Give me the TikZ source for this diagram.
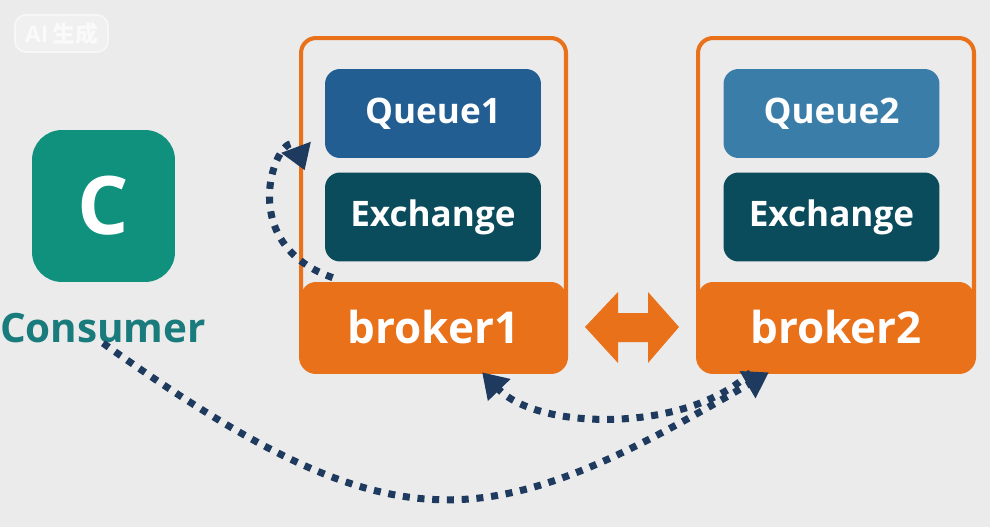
\documentclass[tikz,border=0pt]{standalone}
\usepackage{fontspec}
\setmainfont{Open Sans}
\newfontfamily\cjk{Noto Sans CJK SC}
\usetikzlibrary{arrows.meta, positioning}

\definecolor{bgcol}{HTML}{EBEBEB}
\definecolor{brokerorange}{HTML}{E8711A}
\definecolor{queueblue}{HTML}{235E92}
\definecolor{queuelight}{HTML}{3A7DA8}
\definecolor{exchdark}{HTML}{0A4B5C}
\definecolor{iconteal}{HTML}{0F917D}
\definecolor{constext}{HTML}{1A7B7D}
\definecolor{dotnavy}{HTML}{1E3A5F}

\begin{document}
\begin{tikzpicture}[x=0.02cm, y=-0.02cm,
    innerbox/.style={rounded corners=0.3cm, minimum width=4.32cm, minimum height=1.78cm,
        inner sep=0pt, text=white, font=\bfseries\fontsize{20}{24}\selectfont},
    brokerbox/.style={draw=brokerorange, line width=2.3pt, rounded corners=0.3cm,
        minimum height=6.68cm, inner sep=0pt},
    brokerbase/.style={fill=brokerorange, rounded corners=0.3cm, minimum height=1.8cm,
        inner sep=0pt, text=white, font=\bfseries\fontsize{25}{30}\selectfont},
    dotline/.style={draw=dotnavy, line width=4pt, dash pattern=on 4pt off 4.4pt,
        -{Triangle[width=17pt, length=14pt]}}]

    \fill[bgcol] (0,0) rectangle (990,527);
    \useasboundingbox (0,0) rectangle (990,527);

    \node[draw=white!60!bgcol, line width=1pt, fill=white!25!bgcol, rounded corners=0.22cm,
        minimum width=1.86cm, minimum height=0.74cm, inner sep=0pt, text=white!75!bgcol,
        font=\bfseries\fontsize{13}{15}\selectfont] (mark) at (61.5,33.5) {AI\,{\cjk 生成}};

    % consumer
    \node[fill=iconteal, rounded corners=0.6cm, minimum width=2.86cm, minimum height=3.04cm,
        text=white, font=\bfseries\fontsize{46}{52}\selectfont] (icon) at (103.5,206) {C};
    \node[inner sep=0pt, text=constext, font=\bfseries\fontsize{23}{28}\selectfont]
        (cons) at (103,328) {Consumer};

    % broker1
    \node[brokerbox, minimum width=5.3cm] (b1) at (433.5,205) {};
    \node[brokerbase, minimum width=5.3cm] (b1base) at (433.5,327) {broker1};
    \node[innerbox, fill=queueblue] (q1) at (433,113.5) {Queue1};
    \node[innerbox, fill=exchdark] (x1) at (433,217) {Exchange};

    % broker2
    \node[brokerbox, minimum width=5.52cm] (b2) at (836,205) {};
    \node[brokerbase, minimum width=5.52cm] (b2base) at (836,327) {broker2};
    \node[innerbox, fill=queuelight] (q2) at (831.5,113.5) {Queue2};
    \node[innerbox, fill=exchdark] (x2) at (831.5,217) {Exchange};

    % link between brokers
    \fill[brokerorange] (585,327) -- (618,292) -- (618,313) -- (648,313) -- (648,292)
        -- (679,327) -- (648,363) -- (648,342) -- (618,342) -- (618,363) -- cycle;

    \draw[dotline] ([xshift=0.64cm, yshift=0.08cm]b1base.north west)
        .. controls (225,240) and (285,118) .. ([xshift=-0.4cm, yshift=-0.24cm]q1.south west);
    \draw[dotline] (b2base.208) .. controls (690,432) and (540,432) .. (b1base.-43);
    \draw[dotline] (cons.south) .. controls (397,552) and (485,538) .. (b2base.214);
\end{tikzpicture}
\end{document}
